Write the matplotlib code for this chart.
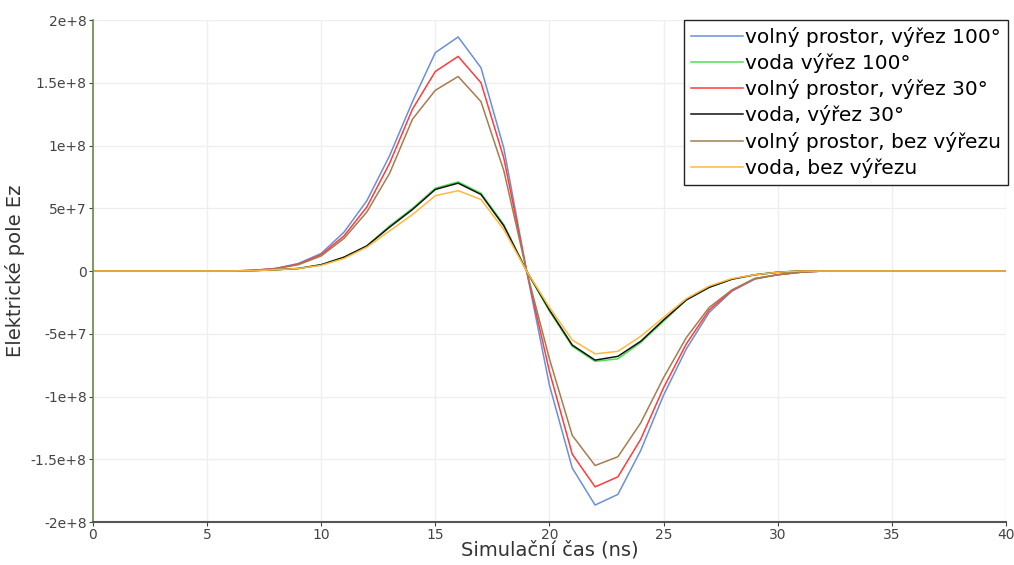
import numpy as np
import matplotlib; matplotlib.use('Agg')
import matplotlib.pyplot as plt

plt.rcParams.update({'font.family': 'DejaVu Sans'})

# simulation time (ns)
t = list(range(0, 41))

# field values in units of 1e8 (t = 0..40)
volny_100 = [0]*6 + [0.0, 0.005, 0.02, 0.06, 0.14, 0.31, 0.56, 0.92, 1.35, 1.74, 1.865, 1.62, 0.98,
                     0.0, -0.91, -1.57, -1.865, -1.78, -1.43, -0.99, -0.62, -0.33, -0.16, -0.065, -0.03, -0.01, 0.0] + [0]*8
voda_100 = [0]*6 + [0.0, 0.003, 0.01, 0.02, 0.05, 0.11, 0.20, 0.36, 0.50, 0.66, 0.71, 0.62, 0.37,
                    0.0, -0.32, -0.60, -0.72, -0.70, -0.57, -0.40, -0.23, -0.13, -0.065, -0.03, -0.01, 0.0, 0.0] + [0]*8
volny_30 = [0]*6 + [0.0, 0.005, 0.02, 0.055, 0.13, 0.28, 0.51, 0.86, 1.29, 1.59, 1.71, 1.50, 0.90,
                    0.0, -0.80, -1.46, -1.72, -1.64, -1.34, -0.93, -0.58, -0.31, -0.155, -0.06, -0.03, -0.01, 0.0] + [0]*8
voda_30 = [0]*6 + [0.0, 0.003, 0.01, 0.02, 0.05, 0.11, 0.20, 0.35, 0.49, 0.65, 0.70, 0.61, 0.36,
                   0.0, -0.31, -0.59, -0.71, -0.68, -0.56, -0.39, -0.23, -0.13, -0.065, -0.03, -0.01, 0.0, 0.0] + [0]*8
volny_bez = [0]*6 + [0.0, 0.004, 0.018, 0.05, 0.12, 0.26, 0.47, 0.78, 1.21, 1.44, 1.55, 1.35, 0.80,
                     0.0, -0.70, -1.31, -1.55, -1.48, -1.21, -0.85, -0.53, -0.29, -0.15, -0.06, -0.03, -0.01, 0.0] + [0]*8
voda_bez = [0]*6 + [0.0, 0.002, 0.01, 0.02, 0.045, 0.10, 0.19, 0.32, 0.45, 0.60, 0.64, 0.57, 0.33,
                    0.0, -0.29, -0.55, -0.66, -0.64, -0.52, -0.37, -0.22, -0.12, -0.06, -0.03, -0.01, 0.0, 0.0] + [0]*8

labels = ['volný prostor, výřez 100°', 'voda výřez 100°', 'volný prostor, výřez 30°',
          'voda, výřez 30°', 'volný prostor, bez výřezu', 'voda, bez výřezu']
series = [volny_100, voda_100, volny_30, voda_30, volny_bez, voda_bez]
colors = ['#6b8fdc', '#4fe04f', '#ff3c3c', '#111111', '#a67c4e', '#ffb940']

yticks = [-2e8, -1.5e8, -1e8, -5e7, 0, 5e7, 1e8, 1.5e8, 2e8]
ytick_labels = ['-2e+8', '-1.5e+8', '-1e+8', '-5e+7', '0', '5e+7', '1e+8', '1.5e+8', '2e+8']
xticks = [0, 5, 10, 15, 20, 25, 30, 35, 40]

fig = plt.figure(figsize=(10.14, 5.65), dpi=100)
ax = fig.add_axes([0.0917, 0.0761, 0.9003, 0.8885])
for y, lab, c in zip(series, labels, colors):
    ax.plot(t, np.array(y)*1e8, color=c, lw=1.1, label=lab)

ax.set_xlim(0, 40); ax.set_ylim(-2e8, 2e8)
ax.set_xticks(xticks); ax.set_xticklabels([str(v) for v in xticks])
ax.set_yticks(yticks); ax.set_yticklabels(ytick_labels)
ax.grid(True, color='#eeeeee', lw=0.9)
ax.set_axisbelow(True)
ax.tick_params(labelsize=10, colors='#444444', length=3, width=0.8, pad=1.5)
for s in ['top', 'right']:
    ax.spines[s].set_visible(False)
ax.spines['left'].set_color('#6b8a4a'); ax.spines['left'].set_linewidth(1.2)
ax.spines['bottom'].set_color('#555555'); ax.spines['bottom'].set_linewidth(1.5)
ax.set_xlabel('Simulační čas (ns)', fontsize=14, color='#333333', labelpad=-1)
ax.set_ylabel('Elektrické pole Ez', fontsize=14, color='#333333', labelpad=4)

leg = ax.legend(loc='upper right', bbox_to_anchor=(1.002, 1.0), fontsize=14.5, frameon=True, fancybox=False,
                handlelength=2.6, handletextpad=0.1, labelspacing=0.31, borderpad=0.33, borderaxespad=0)
leg.get_frame().set_edgecolor('#222222'); leg.get_frame().set_linewidth(1.0)
leg.get_frame().set_alpha(1)

plt.savefig('out.png', dpi=100, facecolor='white')
